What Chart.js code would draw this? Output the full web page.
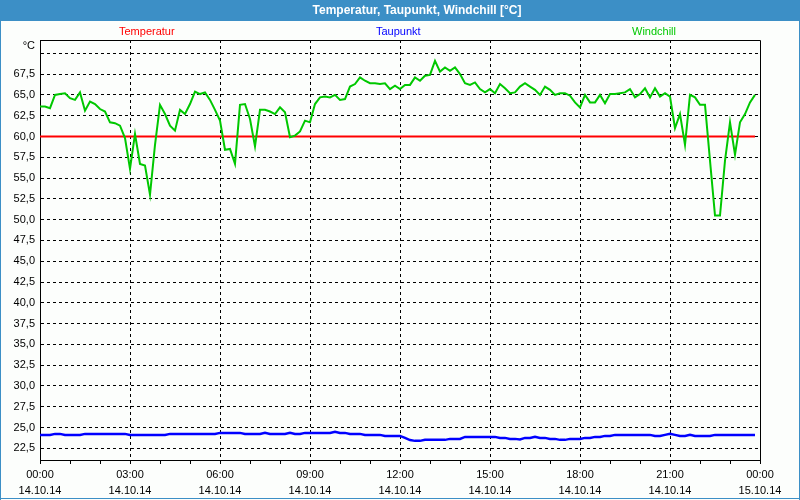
<!DOCTYPE html>
<html>
<head>
<meta charset="utf-8">
<script src="https://cdn.jsdelivr.net/npm/chart.js@4"></script>
<style>
html,body{margin:0;padding:0;background:#fcfefc;}
canvas{display:block;}
</style>
</head>
<body>
<canvas id="c" width="800" height="500"></canvas>
<script>
// ---- Data ----
const chartTitle = 'Temperatur, Taupunkt, Windchill [°C]';
const seriesNames = ['Temperatur', 'Taupunkt', 'Windchill'];
const seriesColors = ['#ff0000', '#0000ff', '#00c800'];
const sampleStepMinutes = 10;
const timeLabels = ['00:00','03:00','06:00','09:00','12:00','15:00','18:00','21:00','00:00'];
const dateLabels = ['14.10.14','14.10.14','14.10.14','14.10.14','14.10.14','14.10.14','14.10.14','14.10.14','15.10.14'];
const yTicks = [22.5,25,27.5,30,32.5,35,37.5,40,42.5,45,47.5,50,52.5,55,57.5,60,62.5,65,67.5,70];
const yTickLabels = ['22,5','25,0','27,5','30,0','32,5','35,0','37,5','40,0','42,5','45,0','47,5','50,0','52,5','55,0','57,5','60,0','62,5','65,0','67,5',''];
const yUnit = '°C';

const temperatur = [
60.0,60.0,60.0,60.0,60.0,60.0,60.0,60.0,60.0,60.0,60.0,60.0,
60.0,60.0,60.0,60.0,60.0,60.0,60.0,60.0,60.0,60.0,60.0,60.0,
60.0,60.0,60.0,60.0,60.0,60.0,60.0,60.0,60.0,60.0,60.0,60.0,
60.0,60.0,60.0,60.0,60.0,60.0,60.0,60.0,60.0,60.0,60.0,60.0,
60.0,60.0,60.0,60.0,60.0,60.0,60.0,60.0,60.0,60.0,60.0,60.0,
60.0,60.0,60.0,60.0,60.0,60.0,60.0,60.0,60.0,60.0,60.0,60.0,
60.0,60.0,60.0,60.0,60.0,60.0,60.0,60.0,60.0,60.0,60.0,60.0,
60.0,60.0,60.0,60.0,60.0,60.0,60.0,60.0,60.0,60.0,60.0,60.0,
60.0,60.0,60.0,60.0,60.0,60.0,60.0,60.0,60.0,60.0,60.0,60.0,
60.0,60.0,60.0,60.0,60.0,60.0,60.0,60.0,60.0,60.0,60.0,60.0,
60.0,60.0,60.0,60.0,60.0,60.0,60.0,60.0,60.0,60.0,60.0,60.0,
60.0,60.0,60.0,60.0,60.0,60.0,60.0,60.0,60.0,60.0,60.0,60.0
];

const taupunkt = [
24.12,24.12,24.12,24.24,24.24,24.12,24.12,24.12,24.12,24.24,24.24,24.24,
24.24,24.24,24.24,24.24,24.24,24.24,24.12,24.12,24.12,24.12,24.12,24.12,
24.12,24.12,24.24,24.24,24.24,24.24,24.24,24.24,24.24,24.24,24.24,24.24,
24.36,24.36,24.36,24.36,24.36,24.24,24.24,24.24,24.24,24.36,24.24,24.24,
24.24,24.24,24.36,24.24,24.24,24.36,24.36,24.36,24.36,24.36,24.36,24.48,
24.36,24.36,24.24,24.24,24.24,24.12,24.12,24.12,24.12,24.00,24.00,24.00,
24.00,23.76,23.50,23.40,23.40,23.52,23.52,23.52,23.52,23.52,23.64,23.64,
23.64,23.88,23.88,23.88,23.88,23.88,23.88,23.88,23.76,23.76,23.64,23.64,
23.56,23.76,23.76,23.88,23.76,23.76,23.64,23.64,23.52,23.52,23.64,23.64,
23.64,23.76,23.76,23.88,23.88,24.00,24.00,24.12,24.12,24.12,24.12,24.12,
24.12,24.12,24.12,24.00,24.00,24.12,24.24,24.12,24.00,24.00,24.12,24.00,
24.00,24.00,24.00,24.12,24.12,24.12,24.12,24.12,24.12,24.12,24.12,24.12
];

const windchill = [
63.6,63.6,63.4,65.0,65.1,65.2,64.6,64.4,65.3,63.1,64.2,63.9,
63.3,63.0,61.7,61.6,61.3,59.8,56.1,60.3,56.7,56.5,53.0,59.0,
63.8,62.7,61.3,60.7,63.2,62.7,63.9,65.4,65.1,65.3,64.4,63.2,
61.9,58.4,58.5,56.7,63.8,63.9,62.1,58.8,63.2,63.2,63.0,62.7,
63.5,62.9,59.9,60.1,60.6,61.9,61.7,63.9,64.7,64.8,64.7,65.0,
64.4,64.5,66.0,66.3,67.1,66.7,66.4,66.4,66.3,66.4,65.7,66.1,
65.7,66.2,66.2,67.1,66.7,67.3,67.4,69.1,67.8,68.3,67.9,68.3,
67.5,66.4,66.2,66.5,65.7,65.3,65.7,65.2,66.3,65.8,65.2,65.3,
66.0,66.4,66.0,65.6,65.0,66.0,65.6,65.0,65.2,65.2,64.9,64.1,
63.5,65.0,64.1,64.1,65.0,64.0,65.1,65.1,65.2,65.3,65.7,64.7,
65.1,65.8,64.7,65.8,64.8,65.2,64.8,61.0,62.7,59.0,65.0,64.7,
63.8,63.8,57.1,50.5,50.5,57.1,61.7,57.8,61.7,62.7,64.1,65.0
];

// ---- Build ----
function toPoints(arr){
  return arr.map((v,i)=>({x: i*sampleStepMinutes/60, y: v}));
}
const FONT = '"Liberation Sans", Arial, sans-serif';

const decor = {
  id: 'decor',
  beforeDraw(chart){
    const ctx = chart.ctx;
    ctx.save();
    ctx.fillStyle = '#fcfefc';
    ctx.fillRect(0,0,chart.width,chart.height);
    ctx.fillStyle = '#3c8fc6';
    ctx.fillRect(0,0,chart.width,21);
    ctx.strokeStyle = '#3c8fc6';
    ctx.lineWidth = 1;
    ctx.beginPath();
    ctx.moveTo(0.5,0); ctx.lineTo(0.5,chart.height);
    ctx.moveTo(chart.width-0.5,0); ctx.lineTo(chart.width-0.5,chart.height);
    ctx.moveTo(0,chart.height-1.5); ctx.lineTo(chart.width,chart.height-1.5);
    ctx.stroke();
    ctx.fillStyle = '#ffffff';
    ctx.font = 'bold 12px ' + FONT;
    ctx.textAlign = 'center';
    ctx.textBaseline = 'middle';
    ctx.fillText(chartTitle, 417, 11);
    ctx.restore();
  },
  afterDraw(chart){
    const ctx = chart.ctx;
    const a = chart.chartArea;
    ctx.save();
    ctx.strokeStyle = '#000';
    ctx.lineWidth = 1;
    ctx.beginPath();
    ctx.moveTo(a.left, a.top+0.5); ctx.lineTo(a.right+0.5, a.top+0.5);
    ctx.lineTo(a.right+0.5, a.bottom);
    ctx.stroke();
    ctx.font = '11px ' + FONT;
    ctx.textBaseline = 'middle';
    ctx.textAlign = 'left';
    const lx = [119, 376, 632];
    seriesNames.forEach((n,i)=>{
      ctx.fillStyle = seriesColors[i];
      ctx.fillText(n, lx[i], 32);
    });
    ctx.fillStyle = '#000';
    ctx.textAlign = 'right';
    ctx.fillText(yUnit, 35, 46);
    ctx.restore();
  }
};

new Chart(document.getElementById('c'), {
  type: 'line',
  plugins: [decor],
  data: {
    datasets: [
      {label: seriesNames[0], data: toPoints(temperatur), borderColor: seriesColors[0], borderWidth: 2, pointRadius: 0, tension: 0, order: 2},
      {label: seriesNames[1], data: toPoints(taupunkt), borderColor: seriesColors[1], borderWidth: 2.5, pointRadius: 0, tension: 0, order: 1},
      {label: seriesNames[2], data: toPoints(windchill), borderColor: seriesColors[2], borderWidth: 2, pointRadius: 0, tension: 0, order: 0}
    ]
  },
  options: {
    responsive: false,
    animation: false,
    devicePixelRatio: 1,
    layout: {padding: {left: 0, right: 40, top: 40, bottom: 0}},
    plugins: {legend: {display: false}, tooltip: {enabled: false}, title: {display: false}},
    scales: {
      x: {
        type: 'linear', min: 0, max: 24,
        afterFit(s){ s.height = 40; },
        ticks: {
          stepSize: 1, autoSkip: false, maxRotation: 0, padding: 3,
          color: '#000', font: {family: FONT, size: 11, lineHeight: 1.45},
          callback(v){ return (v % 3 === 0) ? [timeLabels[v/3], dateLabels[v/3]] : ''; }
        },
        grid: {
          color(c){ const v = c.tick && c.tick.value; return (v % 3 === 0 && v > 0 && v < 24) ? '#000' : 'rgba(0,0,0,0)'; },
          tickColor: '#000', tickLength: 4, lineWidth: 1, drawTicks: true,
          tickBorderDash: []
        },
        border: {display: true, color: '#000', width: 1, dash: [3,3]}
      },
      y: {
        type: 'linear', min: 21.1, max: 71.6,
        afterFit(s){ s.width = 40; },
        afterBuildTicks(s){ s.ticks = yTicks.map(v=>({value: v})); },
        ticks: {
          padding: 5, color: '#000', font: {family: FONT, size: 11},
          callback(v){ const i = yTicks.indexOf(v); return i >= 0 ? yTickLabels[i] : ''; }
        },
        grid: {color: '#000', lineWidth: 1, drawTicks: false, tickLength: 0},
        border: {display: true, color: '#000', width: 1, dash: [3,3]}
      }
    }
  }
});
</script>
</body>
</html>
